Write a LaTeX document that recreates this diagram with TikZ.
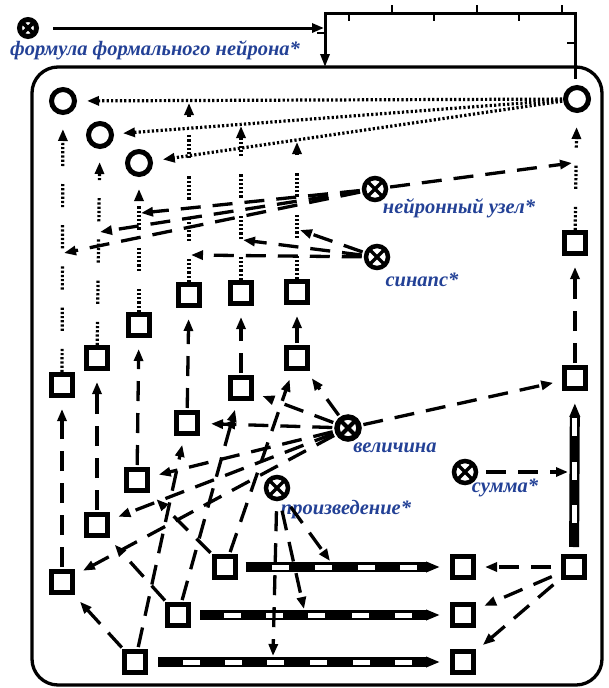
\documentclass[tikz,border=0pt]{standalone}
\usepackage{fontspec}
\setmainfont{Liberation Serif}
\usetikzlibrary{arrows.meta}
\definecolor{lblue}{RGB}{35,65,150}
\begin{document}
\begin{tikzpicture}[x=1pt,y=-1pt,
  >={Triangle[length=12pt,width=9pt]},
  sq/.style={draw, line width=5pt, minimum size=21pt, inner sep=0pt},
  ring/.style={circle, draw, line width=5pt, minimum size=23pt, inner sep=0pt},
  otim/.style={circle, draw, line width=4.5pt, minimum size=22pt, inner sep=0pt,
    path picture={\draw[line width=#1]
      (path picture bounding box.north west) -- (path picture bounding box.south east)
      (path picture bounding box.north east) -- (path picture bounding box.south west);}},
  otim/.default=3.2pt,
  lbl/.style={text=lblue, font=\fontsize{20.5}{24}\selectfont\bfseries\itshape, inner sep=0pt},
  dsh/.style={->, line width=3.3pt, dash pattern=on 20pt off 12pt, shorten >=9pt, shorten <=2pt},
  dtt/.style={->, line width=3.2pt, dash pattern=on 2.2pt off 2.2pt},
  dgr/.style={->, line width=3.2pt, dash pattern=on 2.2pt off 2pt on 2.2pt off 2pt on 2.2pt off 2pt on 2.2pt off 2pt on 2.2pt off 2pt on 2.2pt off 18pt},
  barline/.style={line width=10pt, -{Triangle[length=14pt,width=10pt]}},
  brk/.style={line width=3pt},
  frame/.style={line width=3.3pt, rounded corners=26pt}
]
\useasboundingbox (0,0) rectangle (608,688);

% frame
\draw[frame] (32,67) rectangle (602,685);

% labels
\node[lbl] (tF) at (155,50) {формула формального нейрона*};
\node[lbl] (tN) at (459,208) {нейронный узел*};
\node[lbl] (tSy) at (422,280) {синапс*};
\node[lbl] (tV) at (395,448) {величина};
\node[lbl] (tSu) at (505,488) {сумма*};
\node[lbl] (tP) at (346,510) {произведение*};

% circles
\node[ring] (C1) at (63,101) {};
\node[ring] (C2) at (100,135) {};
\node[ring] (C3) at (139,163) {};
\node[ring] (CR) at (577,99) {};

% otimes nodes
\node[otim=3.6pt, line width=5pt, minimum size=17pt] (F) at (28,28) {};
\node[otim] (N) at (375,189) {};
\node[otim] (Sy) at (377,257) {};
\node[otim=4pt, line width=5.5pt] (V) at (348,428) {};
\node[otim] (P) at (277,488) {};
\node[otim] (Su) at (465,472) {};

% squares
\node[sq] (R1) at (575,243) {};
\node[sq] (R2) at (575,378) {};
\node[sq] (R3) at (574,567) {};
\node[sq] (T1) at (189,295) {};
\node[sq] (T2) at (241,293) {};
\node[sq] (T3) at (297,292) {};
\node[sq] (L1) at (139,325) {};
\node[sq] (L2) at (97,358) {};
\node[sq] (L3) at (62,385) {};
\node[sq] (M3) at (297,358) {};
\node[sq] (M2) at (241,388) {};
\node[sq] (M1) at (187,423) {};
\node[sq] (K1) at (137,480) {};
\node[sq] (K2) at (97,525) {};
\node[sq] (K3) at (62,582) {};
\node[sq] (I1) at (225,567) {};
\node[sq] (I2) at (178,615) {};
\node[sq] (I3) at (135,662) {};
\node[sq] (O1) at (463,567) {};
\node[sq] (O2) at (463,615) {};
\node[sq] (O3) at (463,662) {};

% bracket at top
\coordinate (bTL) at (325,13);
\coordinate (bTR) at (575,13);
\coordinate (bIn) at (325,67);
\coordinate (bEnd) at (575,79);
\coordinate (bJ) at (324,28);
\draw[brk, {Triangle[length=13pt,width=9pt]}-] (bIn) -- (bTL) -- (bTR) -- (bEnd);
\draw[brk, ->, shorten <=14pt] (F) -- (bJ);
\foreach \x in {392,477,562} \draw[line width=2.8pt] (\x,13) -- (\x,5);
\foreach \x in {349,434,519} \draw[line width=2.8pt] (\x,13) -- (\x,21);
\draw[line width=2.8pt] (575,43) -- (567,43);
\draw[line width=2.8pt] (325,33) -- (317,33);

% striped bars
\draw[barline, shorten <=7.5pt, shorten >=10pt] (I1) -- (O1);
\draw[barline, shorten <=9pt, shorten >=10pt] (I2) -- (O2);
\draw[barline, shorten <=10pt, shorten >=10pt] (I3) -- (O3);
\draw[barline, shorten <=7pt, shorten >=12pt] (R3) -- (R2);
\foreach \x in {272,315,358,400} \fill[white] (\x,564.5) rectangle ++(17,5);
\foreach \x in {224,266,308,352,395} \fill[white] (\x,612.5) rectangle ++(17,5);
\foreach \x in {183,225,267,310,353,395} \fill[white] (\x,659.5) rectangle ++(17,5);
\foreach \y in {418,462,505} \fill[white] (571.5,\y) rectangle ++(5,18);

% top dotted lines
\draw[dtt, shorten >=10pt, shorten <=1pt] (CR) -- (C1);
\draw[dtt, shorten >=9pt, shorten <=1pt] (CR) -- (C2);
\draw[dtt, shorten >=10pt, shorten <=1pt] (CR) -- (C3);

% junction points
\coordinate (j1) at (189,103);
\coordinate (j2) at (241,126);
\coordinate (j3) at (297,142);
\coordinate (jn) at (572,163);
\coordinate (jl1) at (141,213);
\coordinate (jl2) at (100,232);
\coordinate (jl3) at (64,253);
\coordinate (js1) at (300,230);
\coordinate (js2) at (243,240);
\coordinate (js3) at (191,255);
\coordinate (jp1) at (273,656);
\coordinate (jp2) at (304,609);
\coordinate (jp3) at (330,561);
\coordinate (jsu) at (568,472);

% dotted column lines
\draw[dgr] (T1) -- (j1);
\draw[dgr] (T2) -- (j2);
\draw[dgr] (T3) -- (j3);
\draw[dgr, shorten >=12pt] (L1) -- (C3);
\draw[dgr, shorten >=13pt] (L2) -- (C2);
\draw[dgr, shorten >=14pt] (L3) -- (C1);
\draw[dgr, shorten >=14pt] (R1) -- (CR);

% dashed verticals
\draw[dsh, shorten >=11pt] (K3) -- (L3);
\draw[dsh, shorten >=11pt] (K2) -- (L2);
\draw[dsh, shorten >=11pt] (K1) -- (L1);
\draw[dsh, shorten >=11pt] (M1) -- (T1);
\draw[dsh, shorten >=11pt] (M2) -- (T2);
\draw[dsh, shorten >=11pt] (M3) -- (T3);
\draw[dsh, shorten >=11pt] (R2) -- (R1);

% neuron node lines
\draw[dsh, shorten >=0pt] (N) -- (jn);
\draw[dsh, shorten >=0pt] (N) -- (jl1);
\draw[dsh, shorten >=0pt] (N) -- (jl2);
\draw[dsh, shorten >=0pt] (N) -- (jl3);

% synapse lines
\draw[dsh, shorten >=0pt] (Sy) -- (js1);
\draw[dsh, shorten >=0pt] (Sy) -- (js2);
\draw[dsh, shorten >=0pt] (Sy) -- (js3);

% magnitude lines
\draw[dsh] (V) -- (M3);
\draw[dsh] (V) -- (M2);
\draw[dsh, shorten >=11pt, -{Triangle[length=12pt,width=9pt] Triangle[length=12pt,width=9pt]}] (V) -- (M1);
\draw[dsh] (V) -- (K1);
\draw[dsh] (V) -- (K2);
\draw[dsh] (V) -- (K3);
\draw[dsh] (V) -- (R2);

% input square lines
\draw[dsh] (I1) -- (M3);
\draw[dsh] (I1) -- (K1);
\draw[dsh] (I2) -- (K2);
\draw[dsh] (I2) -- (M2);
\draw[dsh] (I3) -- (K3);
\draw[dsh] (I3) -- (M1);

% product lines
\draw[dsh, shorten <=10pt, shorten >=0pt] (P) -- (jp1);
\draw[dsh, shorten <=10pt, shorten >=0pt] (P) -- (jp2);
\draw[dsh, shorten <=10pt, shorten >=0pt] (P) -- (jp3);

% sum lines
\draw[dsh, shorten <=10pt] (R3) -- (O1);
\draw[dsh, shorten <=10pt] (R3) -- (O2);
\draw[dsh, shorten <=10pt] (R3) -- (O3);
\draw[dsh, shorten <=8pt, shorten >=0pt] (Su) -- (jsu);
\end{tikzpicture}
\end{document}
